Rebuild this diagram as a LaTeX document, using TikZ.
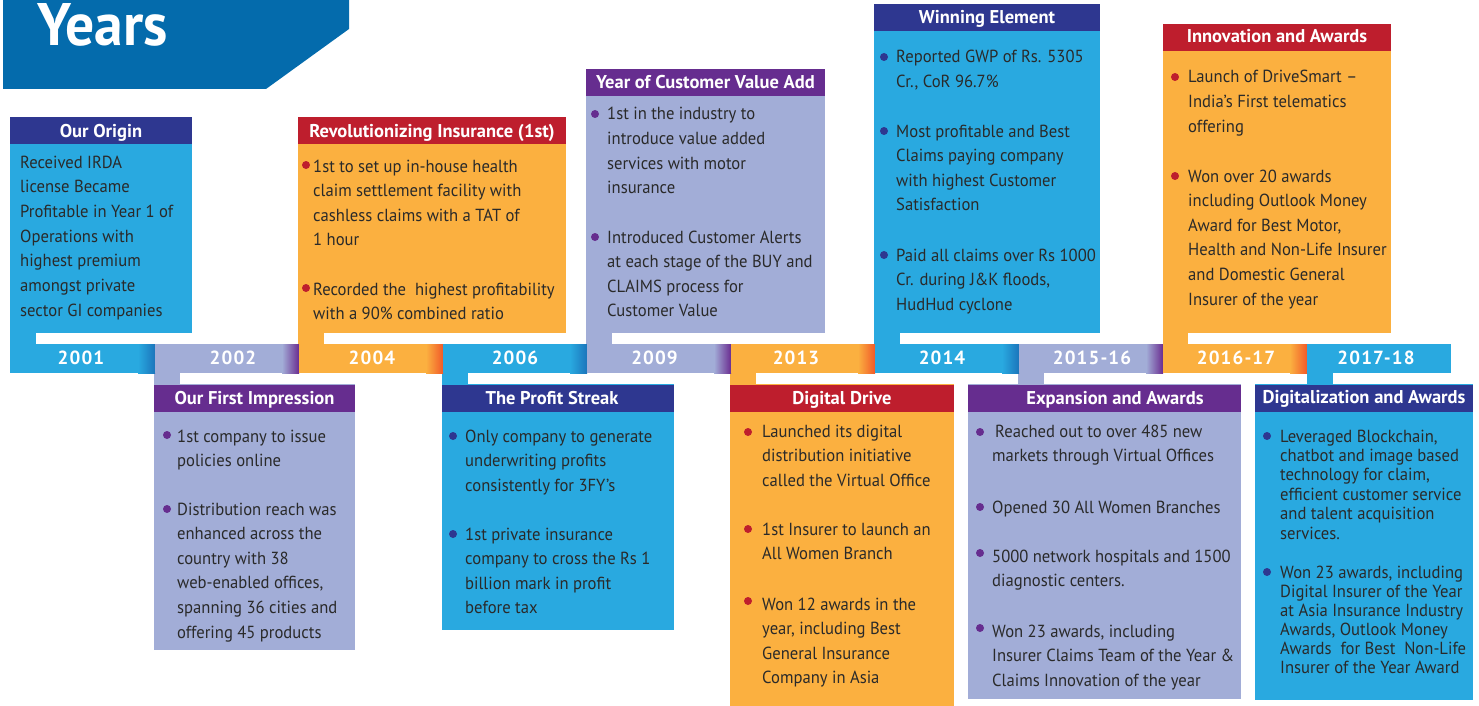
\documentclass[tikz,border=0pt]{standalone}
\usepackage{fontspec}
\setmainfont{PT Sans}
\newfontfamily\bodyf[FakeStretch=0.95]{PT Sans}
\newfontfamily\titlef{PT Sans}
\newfontfamily\yearf[LetterSpace=6]{PT Sans}
\newfontfamily\headf[FakeStretch=0.96]{PT Sans}
\definecolor{cyanbox}{HTML}{29A9E0}
\definecolor{navy}{HTML}{2E3790}
\definecolor{redt}{HTML}{BE1E2D}
\definecolor{purp}{HTML}{662D8F}
\definecolor{lav}{HTML}{A2ADD7}
\definecolor{orng}{HTML}{FBB040}
\definecolor{hdr}{HTML}{046BAC}
\definecolor{dkblue}{HTML}{1B75BB}
\definecolor{dkpurp}{HTML}{6A2C90}
\definecolor{dkorng}{HTML}{F15A29}
\definecolor{txt}{HTML}{2A2A2A}
\tikzset{
  body/.style={anchor=base west, inner sep=0pt, text=txt, font=\bodyf\fontsize{17.5}{20}\selectfont},
  ttl/.style={anchor=base, inner sep=0pt, text=white, font=\titlef\bfseries\fontsize{18.5}{21}\selectfont},
  yr/.style={anchor=base, inner sep=0pt, text=white, font=\yearf\bfseries\fontsize{19}{22}\selectfont},
  dot/.style={circle, fill=#1, inner sep=0pt, minimum size=8pt},
}
\newcommand\lines[5]{\foreach \linetext [count=\i] in {#5}{\node[body] (#1-\i) at (#2,{#3+(\i-1)*#4}) {\linetext};}}
\newcommand\seg[4]{\fill[#3] (#1,344) rectangle ({#2-17},373);
  \shade[left color=#3,right color=#4] ({#2-17},344) rectangle (#2,373);}
\begin{document}
\begin{tikzpicture}[x=1pt,y=-1pt]
\useasboundingbox (0,0) rectangle (1479,706);
% header
\fill[hdr] (3,0) -- (349,0) -- (349,29) -- (266,89) -- (3,89) -- cycle;
\node[anchor=base west, inner sep=0pt, text=white, font=\headf\bfseries\fontsize{60}{62}\selectfont] (years) at (37,46) {Years};

% ===== upper boxes =====
% B1 Our Origin
\fill[cyanbox] (10,117) rectangle (192,333);
\fill[cyanbox] (10,333) rectangle (36,344);
\fill[navy] (10,117) rectangle (192,144);
\node[ttl] (t1) at (101,137) {Our Origin};
\lines{o}{20}{168}{24.7}{{Received IRDA},{license Became},{Profitable in Year 1 of},{Operations with},{highest premium},{amongst private},{sector GI companies}}

% B2 Revolutionizing
\fill[orng] (298,117) rectangle (566,333);
\fill[orng] (298,333) rectangle (324,344);
\fill[redt] (298,117) rectangle (566,144);
\node[ttl] (t2) at (432,137) {Revolutionizing Insurance (1st)};
\node[dot=redt] (b2a) at (306,165) {};
\node[dot=redt] (b2b) at (306,288) {};
\lines{ra}{313}{172}{24.6}{{1st to set up in-house health},{claim settlement facility with},{cashless claims with a TAT of},{1 hour}}
\lines{rb}{313}{295}{24.6}{{Recorded the \ highest profitability},{with a 90\% combined ratio}}

% B3 Customer Value Add
\fill[lav] (586,69) rectangle (825,333);
\fill[lav] (586,333) rectangle (612,344);
\fill[purp] (586,69) rectangle (825,96);
\node[ttl] (t3) at (705.5,89) {Year of Customer Value Add};
\node[dot=purp] (b3a) at (595,114) {};
\node[dot=purp] (b3b) at (595,237) {};
\lines{ca}{607}{120}{24.5}{{1st in the industry to},{introduce value added},{services with motor},{insurance}}
\lines{cb}{607}{243}{24.5}{{Introduced Customer Alerts},{at each stage of the BUY and},{CLAIMS process for},{Customer Value}}

% B4 Winning Element
\fill[cyanbox] (874,4) rectangle (1100,333);
\fill[cyanbox] (874,333) rectangle (900,344);
\fill[navy] (874,4) rectangle (1100,31);
\node[ttl] (t4) at (987,24) {Winning Element};
\node[dot=navy] (b4a) at (884,57) {};
\node[dot=navy] (b4b) at (884,131) {};
\node[dot=navy] (b4c) at (884,255) {};
\lines{wa}{896}{63}{24.6}{{Reported GWP of Rs. 5305},{Cr., CoR 96.7\%}}
\lines{wb}{896}{137}{24.5}{{Most profitable and Best},{Claims paying company},{with highest Customer},{Satisfaction}}
\lines{wc}{896}{261}{24.5}{{Paid all claims over Rs 1000},{Cr. during J\&K floods,},{HudHud cyclone}}

% B5 Innovation and Awards
\fill[orng] (1163,24) rectangle (1391,333);
\fill[orng] (1163,333) rectangle (1188,344);
\fill[redt] (1163,24) rectangle (1391,51);
\node[ttl] (t5) at (1277,43) {Innovation and Awards};
\node[dot=redt] (b5a) at (1175,77) {};
\node[dot=redt] (b5b) at (1175,176) {};
\lines{ia}{1188}{83}{24.5}{{Launch of DriveSmart –},{India’s First telematics},{offering}}
\lines{ib}{1188}{182}{24.6}{{Won over 20 awards},{including Outlook Money},{Award for Best Motor,},{Health and Non-Life Insurer},{and Domestic General},{Insurer of the year}}

% ===== lower boxes =====
% B6 Our First Impression
\fill[lav] (154,384) rectangle (355,650);
\fill[lav] (154,373) rectangle (180,384);
\fill[purp] (154,385) rectangle (355,412);
\node[ttl] (t6) at (254.5,404) {Our First Impression};
\node[dot=purp] (b6a) at (167,435) {};
\node[dot=purp] (b6b) at (167,509) {};
\lines{fa}{177}{442}{24.5}{{1st company to issue},{policies online}}
\lines{fb}{177}{515}{24.6}{{Distribution reach was},{enhanced across the},{country with 38},{web-enabled offices,},{spanning 36 cities and},{offering 45 products}}

% B7 The Profit Streak
\fill[cyanbox] (442,384) rectangle (674,630);
\fill[cyanbox] (442,373) rectangle (468,384);
\fill[navy] (442,385) rectangle (674,412);
\node[ttl] (t7) at (552,404) {The Profit Streak};
\node[dot=navy] (b7a) at (453,436) {};
\node[dot=navy] (b7b) at (453,534) {};
\lines{pa}{465}{442}{24.5}{{Only company to generate},{underwriting profits},{consistently for 3FY’s}}
\lines{pb}{465}{540}{24.5}{{1st private insurance},{company to cross the Rs 1},{billion mark in profit},{before tax}}

% B8 Digital Drive
\fill[orng] (730,384) rectangle (954,706);
\fill[orng] (730,373) rectangle (756,384);
\fill[redt] (730,385) rectangle (954,412);
\node[ttl] (t8) at (842,404) {Digital Drive};
\node[dot=redt] (b8a) at (748,432) {};
\node[dot=redt] (b8b) at (748,529) {};
\node[dot=redt] (b8c) at (748,601) {};
\lines{da}{762}{437}{24.6}{{Launched its digital},{distribution initiative},{called the Virtual Office}}
\lines{db}{762}{535}{24.6}{{1st Insurer to launch an},{All Women Branch}}
\lines{dc}{762}{610}{24.5}{{Won 12 awards in the},{year, including Best},{General Insurance},{Company in Asia}}

% B9 Expansion and Awards
\fill[lav] (968,384) rectangle (1241,699);
\fill[lav] (1018,373) rectangle (1044,384);
\fill[purp] (968,385) rectangle (1241,412);
\node[ttl] (t9) at (1115,404) {Expansion and Awards};
\node[dot=purp] (b9a) at (980,432) {};
\node[dot=purp] (b9b) at (980,507) {};
\node[dot=purp] (b9c) at (980,553) {};
\node[dot=purp] (b9d) at (980,628) {};
\lines{ea}{992}{437}{24.5}{{\hspace{3pt}Reached out to over 485 new},{markets through Virtual Offices}}
\lines{eb}{992}{513}{24.5}{{Opened 30 All Women Branches}}
\lines{ec}{992}{562}{24.5}{{5000 network hospitals and 1500},{diagnostic centers.}}
\lines{ed}{992}{637}{24.5}{{Won 23 awards, including},{Insurer Claims Team of the Year \&},{Claims Innovation of the year}}

% B10 Digitalization and Awards
\fill[cyanbox] (1255,384) rectangle (1473,700);
\fill[cyanbox] (1307,373) rectangle (1333,384);
\fill[navy] (1255,385) rectangle (1473,412);
\node[ttl] (t10) at (1364,403) {Digitalization and Awards};
\node[dot=navy] (b10a) at (1267,436) {};
\node[dot=navy] (b10b) at (1267,572) {};
\lines{ga}{1280}{442}{19.4}{{Leveraged Blockchain,},{chatbot and image based},{technology for claim,},{efficient customer service},{and talent acquisition},{services.}}
\lines{gb}{1280}{578}{19}{{Won 23 awards, including},{Digital Insurer of the Year},{at Asia Insurance Industry},{Awards, Outlook Money},{Awards \ for Best \ Non-Life},{Insurer of the Year Award}}

% ===== timeline bar =====
\seg{10}{155}{cyanbox}{dkblue}
\seg{155}{299}{lav}{dkpurp}
\seg{299}{443}{orng}{dkorng}
\seg{443}{587}{cyanbox}{dkblue}
\seg{587}{731}{lav}{dkpurp}
\seg{731}{875}{orng}{dkorng}
\seg{875}{1019}{cyanbox}{dkblue}
\seg{1019}{1163}{lav}{dkpurp}
\seg{1163}{1307}{orng}{dkorng}
\fill[cyanbox] (1307,344) rectangle (1451,373);
\node[yr] (y1) at (81,364) {2001};
\node[yr] (y2) at (233,364) {2002};
\node[yr] (y3) at (372,364) {2004};
\node[yr] (y4) at (515,364) {2006};
\node[yr] (y5) at (654.5,364) {2009};
\node[yr] (y6) at (796,364) {2013};
\node[yr] (y7) at (942,364) {2014};
\node[yr] (y8) at (1092,364) {2015-16};
\node[yr] (y9) at (1236,364) {2016-17};
\node[yr] (y10) at (1376,364) {2017-18};
\end{tikzpicture}
\end{document}
